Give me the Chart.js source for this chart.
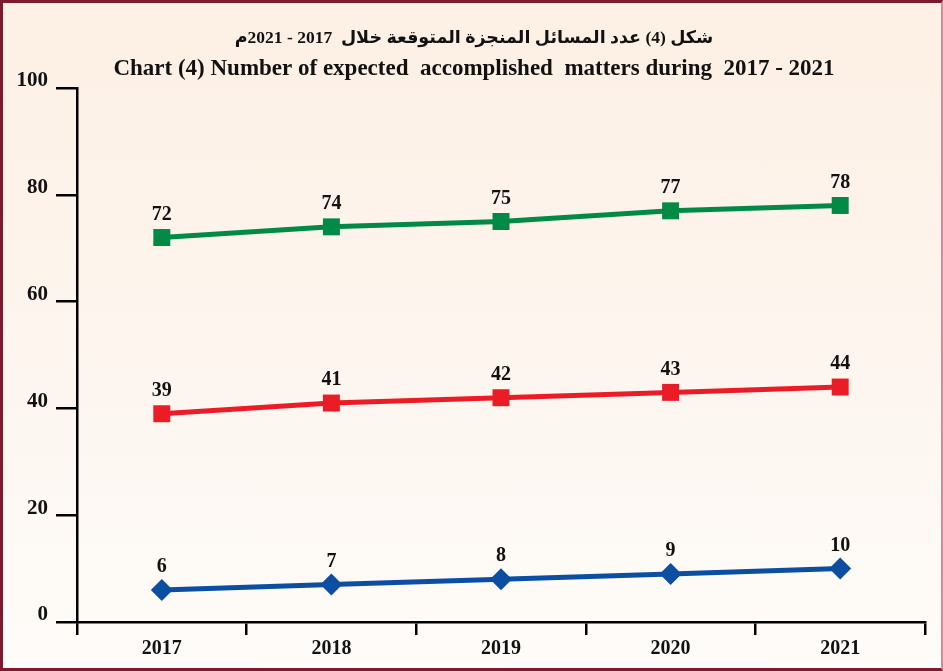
<!DOCTYPE html>
<html>
<head>
<meta charset="utf-8">
<script src="https://cdn.jsdelivr.net/npm/chart.js@4/dist/chart.umd.min.js"></script>
<style>
  html, body { margin: 0; padding: 0; }
  #wrap { position: relative; width: 943px; height: 671px;
          background: linear-gradient(to bottom, #fdf0e4 0%, #fdf5ee 50%, #fefcf9 100%); }
  #frame { position: absolute; left: 0; top: 0; width: 943px; height: 671px; box-sizing: border-box;
           border-top: 3px solid #7d1a2e; border-left: 3px solid #7d1a2e; border-bottom: 3px solid #7d1a2e;
           border-right: 2px solid #c7909b; pointer-events: none; }
  canvas { position: absolute; left: 0; top: 0; }
</style>
</head>
<body>
<div id="wrap">
  <canvas id="c" width="943" height="671"></canvas>
  <div id="frame"></div>
</div>
<script>
const categories = ["2017", "2018", "2019", "2020", "2021"];
const seriesGreen = [72, 74, 75, 77, 78];
const seriesRed = [39, 41, 42, 43, 44];
const seriesBlue = [6, 7, 8, 9, 10];
const yTicks = [0, 20, 40, 60, 80, 100];
const titleArabic = "شكل (4) عدد المسائل المنجزة المتوقعة خلال  2017 - 2021م";
const titleEnglish = "Chart (4) Number of expected  accomplished  matters during  2017 - 2021";

const serif = '"Liberation Serif", "Times New Roman", serif';

const titlesPlugin = {
  id: 'titles',
  afterDraw(chart) {
    const ctx = chart.ctx;
    ctx.save();
    ctx.fillStyle = '#111';
    ctx.textAlign = 'center';
    ctx.textBaseline = 'middle';
    ctx.font = 'bold 17.5px ' + serif + ', "DejaVu Sans"';
    ctx.direction = 'rtl';
    ctx.fillText(titleArabic, 474, 38);
    ctx.direction = 'ltr';
    ctx.font = 'bold 23px ' + serif;
    ctx.fillText(titleEnglish, 474, 69);
    ctx.restore();
  }
};

const labelsPlugin = {
  id: 'pointLabels',
  afterDatasetsDraw(chart) {
    const ctx = chart.ctx;
    ctx.save();
    ctx.fillStyle = '#111';
    ctx.textAlign = 'center';
    ctx.textBaseline = 'middle';
    ctx.font = 'bold 20px ' + serif;
    chart.data.datasets.forEach((ds, i) => {
      const meta = chart.getDatasetMeta(i);
      meta.data.forEach((pt, j) => {
        ctx.fillText(String(ds.data[j]), pt.x, pt.y - 23);
      });
    });
    ctx.restore();
  }
};

function ds(data, color, style, radius) {
  return {
    data: data,
    borderColor: color,
    backgroundColor: color,
    borderWidth: 5,
    tension: 0,
    pointStyle: style,
    pointRadius: radius,
    pointHoverRadius: radius,
    pointBorderWidth: 0,
    pointBackgroundColor: color
  };
}

new Chart(document.getElementById('c'), {
  type: 'line',
  data: {
    labels: categories,
    datasets: [
      ds(seriesGreen, '#008a45', 'rect', 12),
      ds(seriesRed, '#ec1c27', 'rect', 12),
      ds(seriesBlue, '#0b4ea2', 'rectRot', 11)
    ]
  },
  options: {
    responsive: false,
    animation: false,
    events: [],
    layout: { padding: { top: 88, left: 0, right: 18, bottom: 0 } },
    plugins: { legend: { display: false }, tooltip: { enabled: false }, title: { display: false } },
    scales: {
      x: {
        type: 'category',
        offset: true,
        grid: { display: true, offset: true, drawOnChartArea: false, drawTicks: true, tickLength: 13, color: '#000', lineWidth: 2.5 },
        border: { display: true, color: '#000', width: 2.5 },
        ticks: { color: '#111', font: { family: serif, size: 20, weight: 'bold' }, padding: 2, maxRotation: 0 },
        afterFit(scale) { scale.height = 49; }
      },
      y: {
        min: 0, max: 100,
        afterBuildTicks(scale) { scale.ticks = yTicks.map(v => ({ value: v })); },
        grid: { display: true, drawOnChartArea: false, drawTicks: true, tickLength: 21, color: '#000', lineWidth: 2.5 },
        border: { display: true, color: '#000', width: 2.5 },
        ticks: { color: '#111', font: { family: serif, size: 21, weight: 'bold' }, padding: 8, labelOffset: -7 },
        afterFit(scale) { scale.width = 77; }
      }
    }
  },
  plugins: [titlesPlugin, labelsPlugin]
});
</script>
</body>
</html>
